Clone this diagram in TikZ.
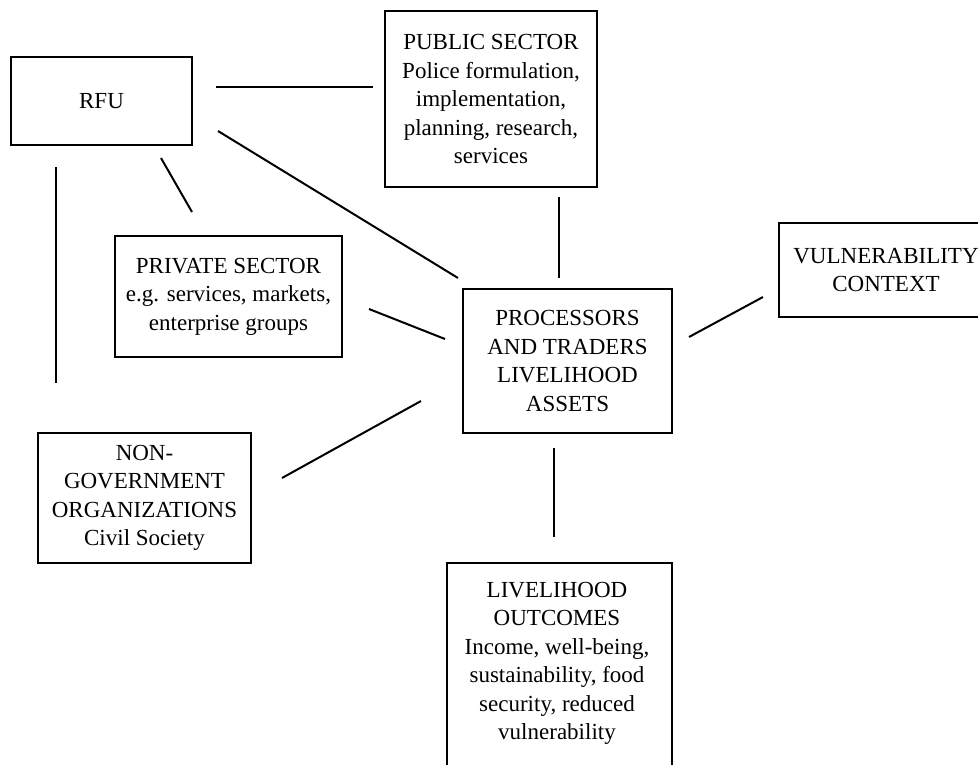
\documentclass[tikz,border=0pt]{standalone}
\usepackage{fontspec}
\setmainfont{Liberation Serif}
\begin{document}
\begin{tikzpicture}[x=1pt,y=-1pt,
  box/.style={draw, line width=2.3pt, inner sep=1pt, align=center,
    font=\fontsize{23}{28.5}\selectfont},
  txt/.style={inner sep=0pt, align=center, font=\fontsize{23}{28.5}\selectfont},
  link/.style={line width=2pt}]
\useasboundingbox (0,0) rectangle (978,764);
\clip (0,0) rectangle (978,764);
% boxes
\node[box, minimum width=181pt, minimum height=88pt] (rfu) at (101.5,101) {RFU};
\node[box, minimum width=212pt, minimum height=176pt] (public) at (491,99)
  {PUBLIC SECTOR\\Police formulation,\\implementation,\\planning, research,\\services};
\node[box, minimum width=227pt, minimum height=121pt] (private) at (228.5,296.5)
  {PRIVATE SECTOR\\e.g. services, markets,\\enterprise groups};
\node[box, minimum width=209pt, minimum height=144pt] (proc) at (567.5,361)
  {PROCESSORS\\AND TRADERS\\LIVELIHOOD\\ASSETS};
\node[box, minimum width=214pt, minimum height=94pt] (vuln) at (886,270)
  {VULNERABILITY\\CONTEXT};
\node[box, minimum width=213pt, minimum height=130pt] (ngo) at (144.5,498)
  {NON-\\GOVERNMENT\\ORGANIZATIONS\\Civil Society};
\node[box, minimum width=225pt, minimum height=240pt, anchor=north] (outbox) at (559.5,562) {};
\node[txt] (outtext) at (557,663.5)
  {LIVELIHOOD\\OUTCOMES\\Income, well-being,\\sustainability, food\\security, reduced\\vulnerability};
% connector end points
\coordinate (a1) at (216,87);  \coordinate (a2) at (373,87);
\coordinate (b1) at (218,131); \coordinate (b2) at (458,278);
\coordinate (c1) at (161,158); \coordinate (c2) at (192,212);
\coordinate (d1) at (56,167);  \coordinate (d2) at (56,383);
\coordinate (e1) at (559,197); \coordinate (e2) at (559,278);
\coordinate (f1) at (369,309); \coordinate (f2) at (445,339);
\coordinate (g1) at (689,337); \coordinate (g2) at (763,297);
\coordinate (h1) at (282,478); \coordinate (h2) at (421,401);
\coordinate (i1) at (554,448); \coordinate (i2) at (554,537);
% connectors
\draw[link] (a1) -- (a2);
\draw[link] (b1) -- (b2);
\draw[link] (c1) -- (c2);
\draw[link] (d1) -- (d2);
\draw[link] (e1) -- (e2);
\draw[link] (f1) -- (f2);
\draw[link] (g1) -- (g2);
\draw[link] (h1) -- (h2);
\draw[link] (i1) -- (i2);
\end{tikzpicture}
\end{document}
